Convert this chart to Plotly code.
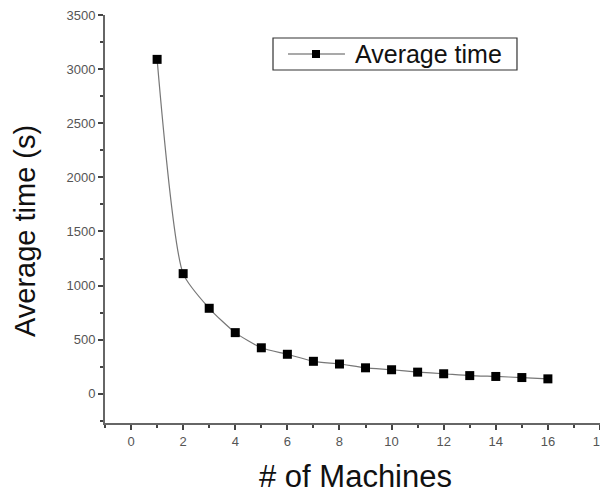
import plotly.graph_objects as go

machines = [1, 2, 3, 4, 5, 6, 7, 8, 9, 10, 11, 12, 13, 14, 15, 16]
avg_time = [3090, 1110, 790, 565, 425, 365, 300, 275, 240, 222, 200, 185, 168, 160, 150, 138]
series_name = "Average time"
x_title = "# of Machines"
y_title = "Average time (s)"

fig = go.Figure()
fig.add_trace(go.Scatter(
    x=machines, y=avg_time, mode="lines+markers", name=series_name,
    line=dict(color="#777777", width=1.2, shape="spline", smoothing=0.6),
    marker=dict(symbol="square", size=9, color="black", line=dict(width=0)),
    showlegend=False,
))

axis_common = dict(
    showline=True, linecolor="#666666", linewidth=2, mirror=False,
    showgrid=False, zeroline=False, automargin=False,
    ticks="outside", ticklen=5, tickwidth=1.5, tickcolor="#444444",
    ticklabeloverflow="allow",
    tickfont=dict(family="Liberation Sans, Arial", size=13, color="#555555"),
)

fig.update_xaxes(
    range=[-1, 18], tickvals=list(range(0, 19, 2)),
    minor=dict(ticks="outside", ticklen=3, tickwidth=1.5, tickcolor="#444444", dtick=1, tick0=0, showgrid=False),
    **axis_common,
)
fig.update_yaxes(
    range=[-270, 3500], tickvals=list(range(0, 3501, 500)),
    minor=dict(ticks="outside", ticklen=3, tickwidth=1.5, tickcolor="#444444", dtick=250, tick0=0, showgrid=False),
    **axis_common,
)

title_font = dict(family="Liberation Sans, Arial", color="#111111")
fig.add_annotation(xref="paper", yref="paper", x=0.506, y=-0.131, xanchor="center", yanchor="middle",
                   text=x_title, showarrow=False, font=dict(size=31, **title_font))
fig.add_annotation(xref="paper", yref="paper", x=-0.162, y=0.47, xanchor="center", yanchor="middle",
                   text=y_title, showarrow=False, textangle=-90, font=dict(size=29, **title_font))

# Custom legend box (paper coordinates)
lx0, lx1, ly0, ly1 = 0.3394, 0.8323, 0.8652, 0.9436
ly = (ly0 + ly1) / 2
fig.add_shape(type="rect", xref="paper", yref="paper", x0=lx0, x1=lx1, y0=ly0, y1=ly1,
              line=dict(color="#333333", width=1.2), fillcolor="white", layer="above")
fig.add_shape(type="line", xref="paper", yref="paper", x0=0.3697, x1=0.4848, y0=ly, y1=ly,
              line=dict(color="#555555", width=1.2), layer="above")
fig.add_shape(type="rect", xref="paper", yref="paper", x0=0.4263 - 0.0081, x1=0.4263 + 0.0081,
              y0=ly - 0.0098, y1=ly + 0.0098, line=dict(width=0), fillcolor="black", layer="above")
fig.add_annotation(xref="paper", yref="paper", x=0.501, y=ly, xanchor="left", yanchor="middle",
                   text=series_name, showarrow=False,
                   font=dict(family="Liberation Sans, Arial", size=25, color="#111111"))

fig.update_layout(
    width=600, height=489,
    margin=dict(l=97, r=8, t=7, b=74),
    paper_bgcolor="white", plot_bgcolor="white",
    showlegend=False,
)

fig.write_html("out.html")
